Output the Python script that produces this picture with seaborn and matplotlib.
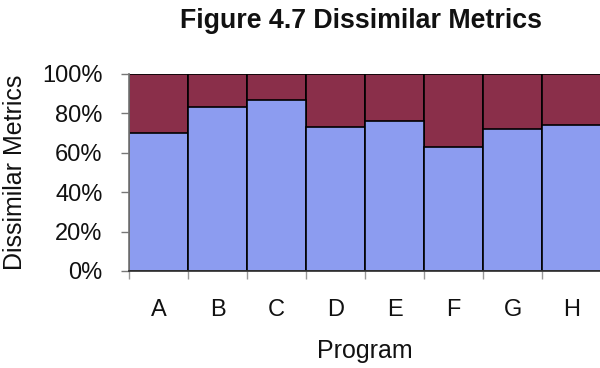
import matplotlib
matplotlib.use("Agg")
import matplotlib.pyplot as plt
import seaborn as sns
import numpy as np

programs = ["A", "B", "C", "D", "E", "F", "G", "H"]
lower_share = [70, 83, 87, 73, 76, 63, 72, 74]
upper_share = [30, 17, 13, 27, 24, 37, 28, 26]
y_ticks = [0, 20, 40, 60, 80, 100]

blue = "#8c9cf0"
maroon = "#8a2f4a"

sns.set_theme(style="white")
plt.rcParams["font.family"] = ["Liberation Sans", "DejaVu Sans"]

fig = plt.figure(figsize=(6.0, 3.68), dpi=100)
ax = fig.add_axes([0.215, 0.2636, 0.787, 0.5354])

totals = [a + b for a, b in zip(lower_share, upper_share)]
sns.barplot(x=programs, y=totals, color=maroon, width=1.0, saturation=1,
            edgecolor="black", linewidth=1.2, ax=ax)
sns.barplot(x=programs, y=lower_share, color=blue, width=1.0, saturation=1,
            edgecolor="black", linewidth=1.2, ax=ax)

ax.set_xlim(-0.5, len(programs) - 0.5)
ax.set_ylim(0, 100)
ax.set_yticks(y_ticks)
ax.set_yticklabels([f"{v}%" for v in y_ticks], fontsize=17, color="#111111")
ax.set_xticks(np.arange(len(programs)))
ax.set_xticklabels(programs, fontsize=17, color="#111111")
ax.set_xticks(np.arange(len(programs) + 1) - 0.5, minor=True)
ax.tick_params(axis="x", which="major", length=0, pad=20)
ax.tick_params(axis="x", which="minor", length=6, width=1, color="#999999",
               bottom=True)
ax.tick_params(axis="y", which="major", length=6, width=1, color="#777777",
               left=True, pad=13)

for side in ["top", "right"]:
    ax.spines[side].set_visible(False)
ax.spines["left"].set_color("#777777")
ax.spines["bottom"].set_color("#333333")

ax.set_ylabel("Dissimilar Metrics", fontsize=18, color="#111111", labelpad=11)
ax.set_xlabel("Program", fontsize=18, color="#111111", labelpad=13)
fig.text(0.602, 0.924, "Figure 4.7 Dissimilar Metrics", ha="center",
         va="baseline", fontsize=19.3, fontweight="bold", color="#111111")

fig.savefig("out.png", dpi=100)
